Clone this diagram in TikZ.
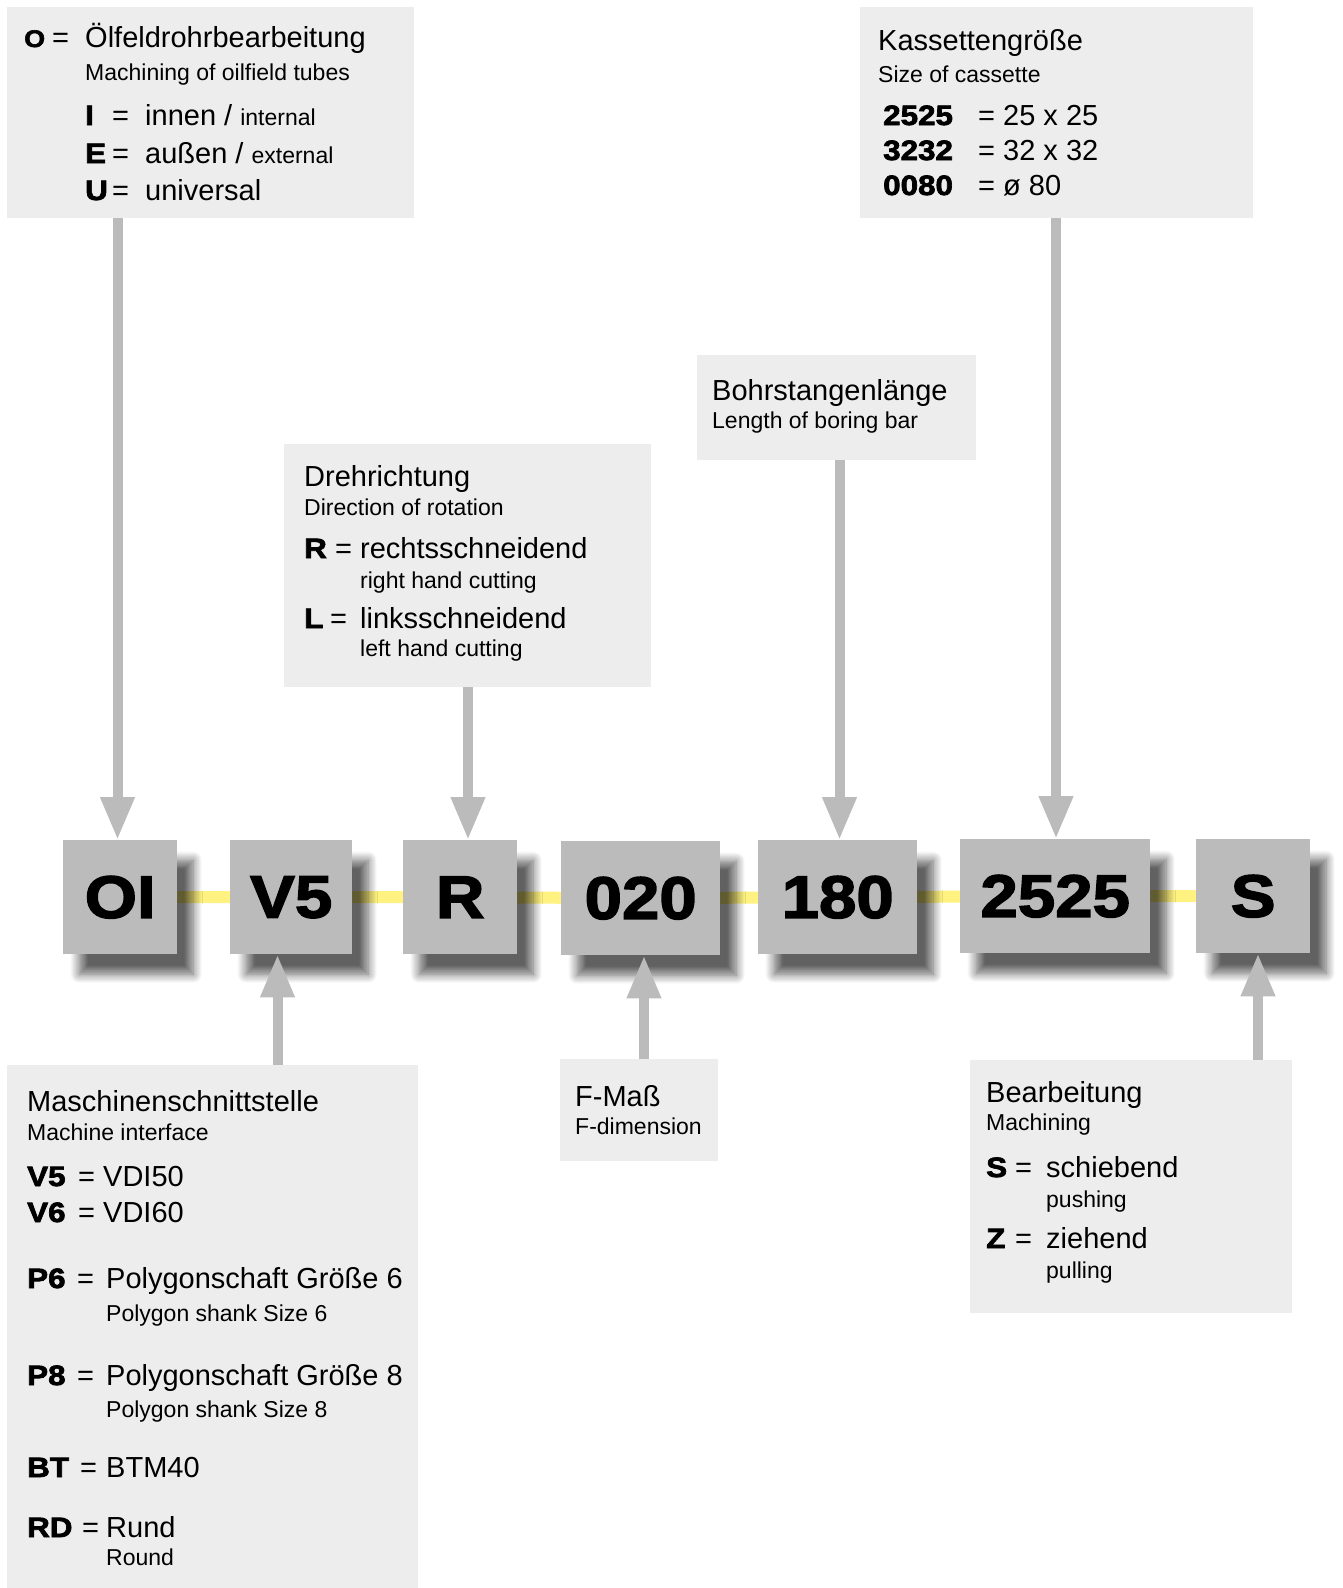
\documentclass[tikz,border=0pt]{standalone}
\usepackage{fontspec}
\setmainfont{Liberation Sans}
\newfontfamily\heavyfont[FakeBold=2.5,FakeStretch=1.12]{Liberation Sans Bold}
\usetikzlibrary{arrows.meta,shadows.blur}
\definecolor{boxgray}{RGB}{187,187,187}
\definecolor{infogray}{RGB}{237,237,237}
\definecolor{linkyellow}{RGB}{255,242,128}
\pgfdeclarelayer{bg}
\pgfsetlayers{bg,main}
\tikzset{
    codebox/.style={fill=boxgray, minimum height=114pt, inner sep=0pt, anchor=north west,
        font=\heavyfont\fontsize{60}{60}\selectfont,
        blur shadow={shadow xshift=16pt, shadow yshift=-20pt, shadow blur radius=9pt,
            shadow blur steps=12, shadow opacity=62}},
    infobox/.style={fill=infogray, inner sep=0pt, anchor=north west},
    head/.style={anchor=base west, inner sep=0pt, font=\fontsize{29}{31}\selectfont},
    eng/.style={anchor=base west, inner sep=0pt, font=\fontsize{23}{25}\selectfont},
    key/.style={anchor=base west, inner sep=0pt, font=\heavyfont\fontsize{28}{30}\selectfont},
    pointer/.style={draw=boxgray, line width=10pt, -{Triangle[width=32pt,length=43pt]}},
    link/.style={draw=linkyellow, line width=12pt},
}
\newcommand{\engsize}{\fontsize{23}{25}\selectfont}

\begin{document}
\begin{tikzpicture}[x=1pt, y=-1pt]
    \useasboundingbox (0,0) rectangle (1343,1588);

    % Bezeichnung
    \node[codebox, minimum width=114pt] (OI)   at (63,840)   {OI};
    \node[codebox, minimum width=122pt] (V5)   at (230,840)  {V5};
    \node[codebox, minimum width=114pt] (R)    at (403,840)  {R};
    \node[codebox, minimum width=159pt] (F020) at (561,841)  {020};
    \node[codebox, minimum width=159pt] (L180) at (758,840)  {180};
    \node[codebox, minimum width=190pt] (K2525) at (960,839) {2525};
    \node[codebox, minimum width=114pt] (S)    at (1196,839) {S};

    \begin{pgfonlayer}{bg}
        \draw[link] (OI) -- (V5) -- (R) -- (F020) -- (L180) -- (K2525) -- (S);
    \end{pgfonlayer}

    % Erklaerungen oben
    \node[infobox, minimum width=407pt, minimum height=211pt] (oil)  at (7,7)     {};
    \node[infobox, minimum width=393pt, minimum height=211pt] (kas)  at (860,7)   {};
    \node[infobox, minimum width=279pt, minimum height=105pt] (bohr) at (697,355) {};
    \node[infobox, minimum width=367pt, minimum height=243pt] (dreh) at (284,444) {};

    % Erklaerungen unten
    \node[infobox, minimum width=411pt, minimum height=523pt] (masch) at (7,1065)  {};
    \node[infobox, minimum width=158pt, minimum height=102pt] (fmass) at (560,1059) {};
    \node[infobox, minimum width=322pt, minimum height=253pt] (bearb) at (970,1060) {};

    % Pfeile
    \coordinate (xOI) at (117.5,0);
    \coordinate (xV5) at (277.5,0);
    \coordinate (xR) at (468,0);
    \coordinate (xF) at (644,0);
    \coordinate (xL) at (839.5,0);
    \coordinate (xK) at (1056,0);
    \coordinate (xS) at (1258,0);
    \draw[pointer] (oil.south -| xOI) -- (OI.north -| xOI);
    \draw[pointer] (dreh.south -| xR) -- (R.north -| xR);
    \draw[pointer] (bohr.south -| xL) -- (L180.north -| xL);
    \draw[pointer] (kas.south -| xK) -- (K2525.north -| xK);
    \draw[pointer] (masch.north -| xV5) -- (V5.south -| xV5);
    \draw[pointer] (fmass.north -| xF) -- (F020.south -| xF);
    \draw[pointer] (bearb.north -| xS) -- (S.south -| xS);

    % Oelfeld
    \node[key, font=\heavyfont\fontsize{24}{26}\selectfont] (oilkey) at (24,47) {O};
    \node[head] (oileq) at (52,47) {=};
    \node[head] (oilde) at (85,47) {Ölfeldrohrbearbeitung};
    \node[eng] (oilen) at (85,80) {Machining of oilfield tubes};
    \node[key] (ikey) at (85,125) {I};
    \node[head] (ieq) at (112,125) {=};
    \node[head] (itext) at (145,125) {innen / {\engsize internal}};
    \node[key] (ekey) at (85,163) {E};
    \node[head] (eeq) at (112,163) {=};
    \node[head] (etext) at (145,163) {außen / {\engsize external}};
    \node[key] (ukey) at (85,200) {U};
    \node[head] (ueq) at (112,200) {=};
    \node[head] (utext) at (145,200) {universal};

    % Kassette
    \node[head] (kasde) at (878,50) {Kassettengröße};
    \node[eng] (kasen) at (878,82) {Size of cassette};
    \node[key] (k1key) at (883,125) {2525};
    \node[head] (k1text) at (978,125) {= 25 x 25};
    \node[key] (k2key) at (883,160) {3232};
    \node[head] (k2text) at (978,160) {= 32 x 32};
    \node[key] (k3key) at (883,195) {0080};
    \node[head] (k3text) at (978,195) {= ø 80};

    % Bohrstange
    \node[head] (bohrde) at (712,400) {Bohrstangenlänge};
    \node[eng] (bohren) at (712,428) {Length of boring bar};

    % Drehrichtung
    \node[head] (drehde) at (304,486) {Drehrichtung};
    \node[eng] (drehen) at (304,515) {Direction of rotation};
    \node[key] (rkey) at (304,558) {R};
    \node[head] (req) at (335,558) {=};
    \node[head] (rde) at (360,558) {rechtsschneidend};
    \node[eng] (ren) at (360,588) {right hand cutting};
    \node[key] (lkey) at (304,628) {L};
    \node[head] (leq) at (330,628) {=};
    \node[head] (lde) at (360,628) {linksschneidend};
    \node[eng] (len) at (360,656) {left hand cutting};

    % Maschinenschnittstelle
    \node[head] (maschde) at (27,1111) {Maschinenschnittstelle};
    \node[eng] (maschen) at (27,1140) {Machine interface};
    \node[key] (v5key) at (27,1186) {V5};
    \node[head] (v5text) at (78,1186) {= VDI50};
    \node[key] (v6key) at (27,1222) {V6};
    \node[head] (v6text) at (78,1222) {= VDI60};
    \node[key] (p6key) at (27,1288) {P6};
    \node[head] (p6eq) at (77,1288) {=};
    \node[head] (p6de) at (106,1288) {Polygonschaft Größe 6};
    \node[eng] (p6en) at (106,1321) {Polygon shank Size 6};
    \node[key] (p8key) at (27,1385) {P8};
    \node[head] (p8eq) at (77,1385) {=};
    \node[head] (p8de) at (106,1385) {Polygonschaft Größe 8};
    \node[eng] (p8en) at (106,1417) {Polygon shank Size 8};
    \node[key] (btkey) at (27,1477) {BT};
    \node[head] (bteq) at (80,1477) {=};
    \node[head] (btde) at (106,1477) {BTM40};
    \node[key] (rdkey) at (27,1537) {RD};
    \node[head] (rdeq) at (82,1537) {=};
    \node[head] (rdde) at (106,1537) {Rund};
    \node[eng] (rden) at (106,1565) {Round};

    % F-Mass
    \node[head] (fde) at (575,1106) {F-Maß};
    \node[eng] (fen) at (575,1134) {F-dimension};

    % Bearbeitung
    \node[head] (bearbde) at (986,1102) {Bearbeitung};
    \node[eng] (bearben) at (986,1130) {Machining};
    \node[key] (skey) at (986,1177) {S};
    \node[head] (seq) at (1015,1177) {=};
    \node[head] (sde) at (1046,1177) {schiebend};
    \node[eng] (sen) at (1046,1207) {pushing};
    \node[key] (zkey) at (986,1248) {Z};
    \node[head] (zeq) at (1015,1248) {=};
    \node[head] (zde) at (1046,1248) {ziehend};
    \node[eng] (zen) at (1046,1278) {pulling};
\end{tikzpicture}
\end{document}
